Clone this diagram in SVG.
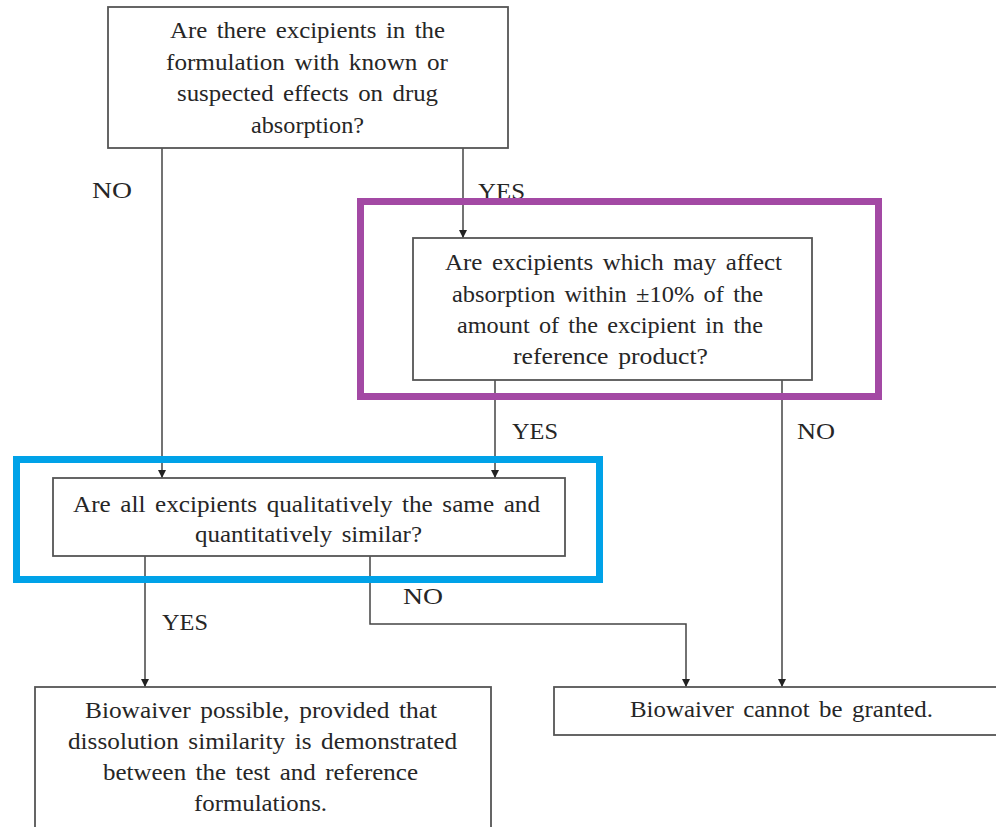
<svg xmlns="http://www.w3.org/2000/svg" width="996" height="827" viewBox="0 0 996 827">
<defs>
<marker id="ah" viewBox="0 0 10 10" refX="10" refY="5" markerWidth="9" markerHeight="8" markerUnits="userSpaceOnUse" orient="auto">
<path d="M0,0 L10,5 L0,10 z" fill="#222"/>
</marker>
<style>
.box{fill:#fff;stroke:#555;stroke-width:1.8}
.t{font-family:"Liberation Serif","Times New Roman",serif;font-size:23px;fill:#262626;word-spacing:3px}
.c{fill:none;stroke:#444;stroke-width:1.5}
</style>
</defs>
<rect width="996" height="827" fill="#fff"/>
<g id="connectors">
<line class="c" x1="162" y1="148" x2="162" y2="478" marker-end="url(#ah)"/>
<line class="c" x1="463" y1="148" x2="463" y2="238" marker-end="url(#ah)"/>
<line class="c" x1="495" y1="380" x2="495" y2="478" marker-end="url(#ah)"/>
<line class="c" x1="782" y1="380" x2="782" y2="687" marker-end="url(#ah)"/>
<line class="c" x1="145" y1="556" x2="145" y2="687" marker-end="url(#ah)"/>
<polyline class="c" points="370,556 370,624 686,624 686,687" marker-end="url(#ah)"/>
<text class="t" x="92" y="198" textLength="40" lengthAdjust="spacingAndGlyphs">NO</text>
<text class="t" x="478" y="199" textLength="47" lengthAdjust="spacingAndGlyphs">YES</text>
<text class="t" x="512" y="439" textLength="46" lengthAdjust="spacingAndGlyphs">YES</text>
<text class="t" x="797" y="439" textLength="38" lengthAdjust="spacingAndGlyphs">NO</text>
<text class="t" x="403" y="604" textLength="40" lengthAdjust="spacingAndGlyphs">NO</text>
<text class="t" x="162" y="630" textLength="46" lengthAdjust="spacingAndGlyphs">YES</text>
</g>
<g id="n1">
<rect class="box" x="108" y="7" width="400" height="141"/>
<text class="t" x="170" y="38" textLength="275" lengthAdjust="spacingAndGlyphs">Are there excipients in the</text>
<text class="t" x="166" y="70" textLength="282" lengthAdjust="spacingAndGlyphs">formulation with known or</text>
<text class="t" x="177" y="101" textLength="261" lengthAdjust="spacingAndGlyphs">suspected effects on drug</text>
<text class="t" x="251" y="133" textLength="113" lengthAdjust="spacingAndGlyphs">absorption?</text>
</g>
<g id="highlight-purple">
<rect x="360.5" y="201.5" width="518" height="195" fill="none" stroke="#a349a4" stroke-width="7"/>
</g>
<g id="n2">
<rect class="box" x="413" y="238" width="399" height="142"/>
<text class="t" x="445" y="270" textLength="337" lengthAdjust="spacingAndGlyphs">Are excipients which may affect</text>
<text class="t" x="452" y="302" textLength="311" lengthAdjust="spacingAndGlyphs">absorption within ±10% of the</text>
<text class="t" x="457" y="333" textLength="306" lengthAdjust="spacingAndGlyphs">amount of the excipient in the</text>
<text class="t" x="513" y="364" textLength="195" lengthAdjust="spacingAndGlyphs">reference product?</text>
</g>
<g id="highlight-blue">
<rect x="16.5" y="459.5" width="583" height="120" fill="none" stroke="#00a2e8" stroke-width="7"/>
</g>
<g id="n3">
<rect class="box" x="53" y="478" width="512" height="78"/>
<text class="t" x="73" y="512" textLength="467" lengthAdjust="spacingAndGlyphs">Are all excipients qualitatively the same and</text>
<text class="t" x="195" y="542" textLength="227" lengthAdjust="spacingAndGlyphs">quantitatively similar?</text>
</g>
<g id="n4">
<rect class="box" x="35" y="687" width="456" height="150"/>
<text class="t" x="85" y="718" textLength="352" lengthAdjust="spacingAndGlyphs">Biowaiver possible, provided that</text>
<text class="t" x="68" y="749" textLength="389" lengthAdjust="spacingAndGlyphs">dissolution similarity is demonstrated</text>
<text class="t" x="103" y="780" textLength="315" lengthAdjust="spacingAndGlyphs">between the test and reference</text>
<text class="t" x="194" y="811" textLength="133" lengthAdjust="spacingAndGlyphs">formulations.</text>
</g>
<g id="n5">
<rect class="box" x="554" y="687" width="456" height="48"/>
<text class="t" x="630" y="717" textLength="303" lengthAdjust="spacingAndGlyphs">Biowaiver cannot be granted.</text>
</g>
</svg>
